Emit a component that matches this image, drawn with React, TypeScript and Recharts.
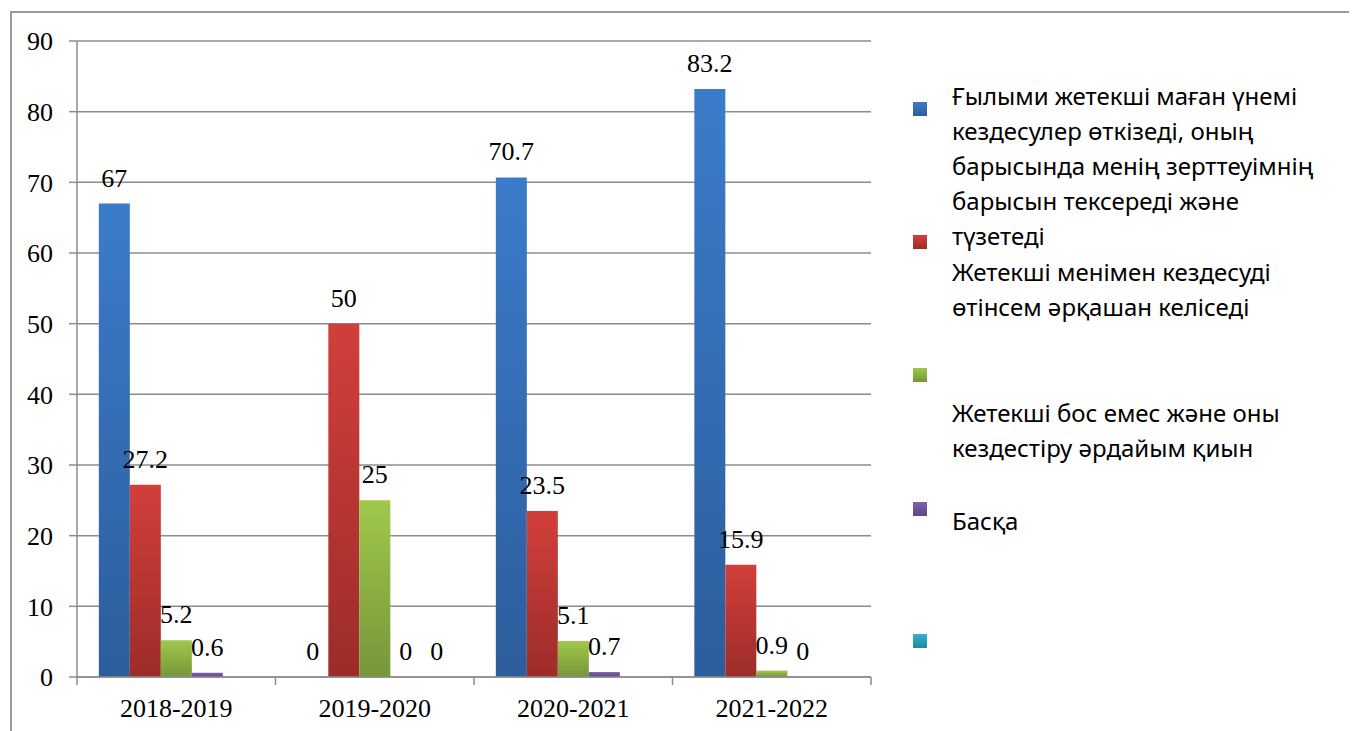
import { Bar, BarChart, CartesianGrid, LabelList, XAxis, YAxis } from 'recharts'

const CATEGORIES = ['2018-2019', '2019-2020', '2020-2021', '2021-2022']

const SERIES_A = [67, 0, 70.7, 83.2]
const SERIES_B = [27.2, 50, 23.5, 15.9]
const SERIES_C = [5.2, 25, 5.1, 0.9]
const SERIES_D = [0.6, 0, 0.7, 0]
const SERIES_E = [null, 0, null, null]

const Y_TICKS = [0, 10, 20, 30, 40, 50, 60, 70, 80, 90]

const LEGEND_LINES = [
  [
    'Ғылыми жетекші маған үнемі',
    'кездесулер өткізеді, оның',
    'барысында менің зерттеуімнің',
    'барысын тексереді және',
    'түзетеді',
  ],
  ['Жетекші менімен кездесуді', 'өтінсем әрқашан келіседі'],
  ['Жетекші бос емес және оны', 'кездестіру әрдайым қиын'],
  ['Басқа'],
  [],
]

const COLORS = [
  { top: '#3b7cca', bottom: '#2d5d9c' },
  { top: '#d23f3b', bottom: '#9c2c29' },
  { top: '#a0c84b', bottom: '#76963a' },
  { top: '#8160ac', bottom: '#5f4582' },
  { top: '#35b0d0', bottom: '#2787a3' },
]

const data = CATEGORIES.map((year, i) => ({
  year,
  a: SERIES_A[i],
  b: SERIES_B[i],
  c: SERIES_C[i],
  d: SERIES_D[i],
  e: SERIES_E[i],
}))

const KEYS = ['a', 'b', 'c', 'd', 'e']

// legend layout (page px minus body margin)
const MARKER_TOPS = [94, 227, 360, 494, 626]
const TEXT_TOPS = [70, 246, 387, 495, 0]

const SERIF = '"Liberation Serif", "Times New Roman", serif'
const GRAY = '#8c8c8c'

function XTick(props: any) {
  const { x, y, payload, index } = props
  const half = payload?.offset ?? 99.25
  const axisY = y - 8 - 14
  return (
    <g>
      <line x1={x - half} x2={x - half} y1={axisY} y2={axisY + 8} stroke={GRAY} strokeWidth={1.5} />
      {index === CATEGORIES.length - 1 && (
        <line x1={x + half} x2={x + half} y1={axisY} y2={axisY + 8} stroke={GRAY} strokeWidth={1.5} />
      )}
      <text x={x} y={y} dy="0.71em" textAnchor="middle" fill="#000" fontSize={26} fontFamily={SERIF}>
        {payload.value}
      </text>
    </g>
  )
}

function ValueLabel(props: any) {
  const { x, y, width, value } = props
  if (value === null || value === undefined) return null
  return (
    <text x={x + width / 2} y={y - 17} textAnchor="middle" fill="#000" fontSize={26} fontFamily={SERIF}>
      {value}
    </text>
  )
}

// zero bars still need a rect so that their "0" label is drawn
const keepZero = (value: any) => (value === 0 ? 0.01 : 0)

export default function App() {
  return (
    <div style={{ position: 'relative', width: 1349, height: 723, overflow: 'hidden', background: '#fff' }}>
      <div
        style={{
          position: 'absolute',
          left: 2,
          top: 3,
          width: 2000,
          height: 2000,
          border: '2px solid #9a9a9a',
        }}
      />
      <div style={{ position: 'absolute', left: 0, top: 0 }}>
        <BarChart
          width={880}
          height={723}
          data={data}
          margin={{ top: 33, right: 17, left: 0, bottom: 0 }}
          barCategoryGap="11%"
          barGap={0}
        >
          <defs>
            {COLORS.map((c, i) => (
              <linearGradient key={i} id={`grad${i}`} x1="0" y1="0" x2="0" y2="1">
                <stop offset="0%" stopColor={c.top} />
                <stop offset="100%" stopColor={c.bottom} />
              </linearGradient>
            ))}
          </defs>
          <CartesianGrid vertical={false} stroke={GRAY} strokeWidth={1.5} />
          <XAxis
            dataKey="year"
            height={54}
            tickSize={8}
            tickMargin={14}
            tickLine={false}
            axisLine={{ stroke: GRAY, strokeWidth: 1.5 }}
            tick={<XTick />}
            interval={0}
          />
          <YAxis
            width={69}
            domain={[0, 90]}
            ticks={Y_TICKS}
            interval={0}
            tickSize={8}
            tickMargin={16}
            axisLine={{ stroke: GRAY, strokeWidth: 1.5 }}
            tickLine={{ stroke: GRAY, strokeWidth: 1.5 }}
            tick={{ fill: '#000', fontSize: 26, fontFamily: SERIF }}
          />
          {KEYS.map((k, i) => (
            <Bar key={k} dataKey={k} fill={`url(#grad${i})`} minPointSize={keepZero} isAnimationActive={false}>
              <LabelList dataKey={k} content={<ValueLabel />} />
            </Bar>
          ))}
        </BarChart>
      </div>
      {COLORS.map((c, i) => (
        <div key={`m${i}`}>
          <div
            style={{
              position: 'absolute',
              left: 905,
              top: MARKER_TOPS[i],
              width: 14,
              height: 14,
              background: `linear-gradient(${c.top}, ${c.bottom})`,
            }}
          />
          {LEGEND_LINES[i].length > 0 && (
            <div
              style={{
                position: 'absolute',
                left: 944,
                top: TEXT_TOPS[i],
                fontFamily: '"Noto Sans", sans-serif',
                fontSize: 24,
                lineHeight: '35px',
                color: '#000',
                whiteSpace: 'nowrap',
              }}
            >
              {LEGEND_LINES[i].map((line, j) => (
                <div key={j}>{line}</div>
              ))}
            </div>
          )}
        </div>
      ))}
    </div>
  )
}
